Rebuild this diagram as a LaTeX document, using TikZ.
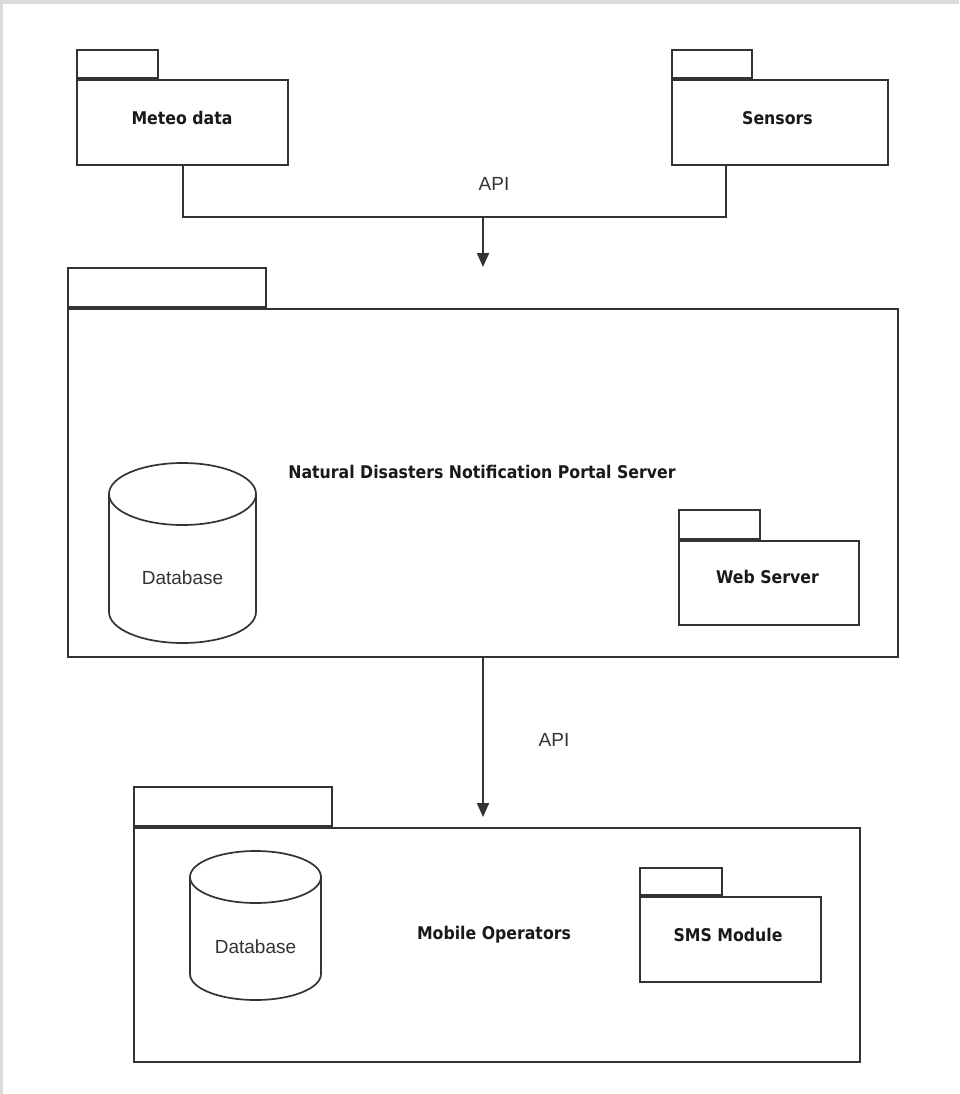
\documentclass[tikz,border=0pt]{standalone}
\usepackage{fontspec}
\setmainfont{Liberation Sans}
\newfontfamily\pkgfont{DejaVu Sans}[FakeStretch=0.9]
\usetikzlibrary{arrows.meta,calc}

\begin{document}
\begin{tikzpicture}[x=1pt,y=-1pt,
  pkg/.style={draw=black!80, line width=2pt, fill=white, inner sep=0pt},
  pkgname/.style={font=\pkgfont\bfseries\fontsize{17.5}{20}\selectfont, text=black!90, inner sep=0pt},
  plain/.style={font=\fontsize{19}{22}\selectfont, text=black!80, inner sep=0pt},
  link/.style={draw=black!80, line width=2pt},
  arr/.style={link, -{Triangle[length=14pt,width=12pt]}},
  dbline/.style={draw=black!80, line width=1.7pt}]

% page and grey frame
\fill[white] (0,0) rectangle (959,1094);
\fill[black!14] (0,0) rectangle (959,4);
\fill[black!14] (0,0) rectangle (3,1094);
\useasboundingbox (0,0) rectangle (959,1094);

% sources on top
\node[pkg, minimum width=211, minimum height=85] (meteo) at (182.5,122.5) {};
\node[pkg, anchor=south west, minimum width=81, minimum height=28] (meteo-tab) at (meteo.north west) {};
\node[pkgname] (meteo-t) at (182,118) {Meteo data};

\node[pkg, minimum width=216, minimum height=85] (sensors) at (780,122.5) {};
\node[pkg, anchor=south west, minimum width=80, minimum height=28] (sensors-tab) at (sensors.north west) {};
\node[pkgname] (sensors-t) at (777.5,118) {Sensors};

% portal server
\node[pkg, minimum width=830, minimum height=348] (portal) at (483,483) {};
\node[pkg, anchor=south west, minimum width=198, minimum height=39] (portal-tab) at (portal.north west) {};
\node[pkgname] (portal-t) at (482,472) {Natural Disasters Notification Portal Server};

%database
\draw[dbline] (182.5,494) ellipse [x radius=73.5pt, y radius=31pt];
\draw[dbline] (109,494) -- (109,612) arc[start angle=180, end angle=360, x radius=73.5pt, y radius=31pt] -- (256,494);
\node[plain] (db1) at (182.5,578) {Database};

\node[pkg, minimum width=180, minimum height=84] (web) at (769,583) {};
\node[pkg, anchor=south west, minimum width=81, minimum height=29] (web-tab) at (web.north west) {};
\node[pkgname] (web-t) at (767.5,577) {Web Server};

% mobile operators
\node[pkg, minimum width=726, minimum height=234] (mobile) at (497,945) {};
\node[pkg, anchor=south west, minimum width=198, minimum height=39] (mobile-tab) at (mobile.north west) {};
\node[pkgname] (mobile-t) at (494,935) {Mobile Operators};

%database
\draw[dbline] (255.5,877) ellipse [x radius=65.5pt, y radius=26pt];
\draw[dbline] (190,877) -- (190,974) arc[start angle=180, end angle=360, x radius=65.5pt, y radius=26pt] -- (321,877);
\node[plain] (db2) at (255.5,947) {Database};

\node[pkg, minimum width=181, minimum height=85] (sms) at (730.5,939.5) {};
\node[pkg, anchor=south west, minimum width=82, minimum height=27] (sms-tab) at (sms.north west) {};
\node[pkgname] (sms-t) at (728,935) {SMS Module};

% connectors
\coordinate (bus) at (483,217);
\draw[link] (meteo.south) |- (bus) -| ([xshift=-54pt]sensors.south);
\draw[arr] (bus) -- (bus |- portal-tab.north);
\node[plain] (api1) at (494,184) {API};

\draw[arr] (portal.south) -- ([yshift=10pt]portal.south |- mobile.north);
\node[plain] (api2) at (554,740) {API};

\end{tikzpicture}
\end{document}
